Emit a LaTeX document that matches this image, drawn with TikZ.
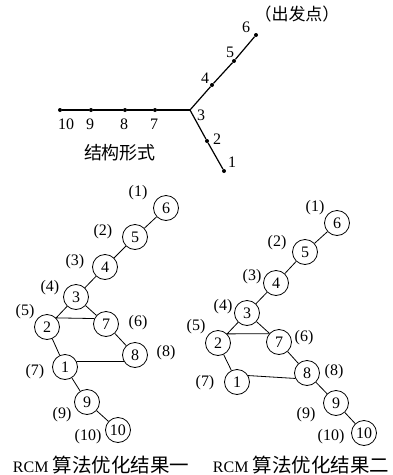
\documentclass[tikz,border=0pt]{standalone}
\usepackage{fontspec}
\setmainfont{Liberation Serif}
\newfontfamily\cjk{Noto Sans CJK SC}
\usetikzlibrary{positioning}

\begin{document}
\begin{tikzpicture}[x=1pt,y=-1pt,
    vtx/.style={draw,circle,line width=0.8pt,minimum size=25pt,inner sep=0pt,font=\fontsize{16}{16}\selectfont},
    num/.style={inner sep=0pt,font=\fontsize{16}{16}\selectfont},
    dot/.style={circle,fill,inner sep=0pt,minimum size=4pt},
    bar/.style={line width=1.2pt},
    edge/.style={line width=0.8pt}]
    \useasboundingbox (0,0) rectangle (392,475);

    % Structure (top)
    \foreach \n/\x/\y in {6/256/35, 5/234/61, 4/212/85, 7/155/110, 8/125/110,
                          9/91/110, 10/60/110, 2/207/141, 1/224/171}
        \node[dot] (t\n) at (\x,\y) {};
    \coordinate (t3) at (190,110);
    \draw[bar] (t6) -- (t5) -- (t4) -- (t3) -- (t2) -- (t1);
    \draw[bar] (t3) -- (t7) -- (t8) -- (t9) -- (t10);
    % Structure labels
    \foreach \n/\x/\y in {6/246/27, 5/230/52, 4/205/78, 3/201/115, 2/217/139,
                          1/232/162, 7/154/124, 8/124/124, 9/90/124, 10/66/124}
        \node[num] (tl\n) at (\x,\y) {\n};
    \node[inner sep=0pt,font=\cjk\fontsize{17}{17}\selectfont] (start) at (297,14) {（出发点）};
    \node[inner sep=0pt,font=\cjk\fontsize{18}{18}\selectfont] (form) at (120,153) {结构形式};

    % RCM result 1
    \foreach \n/\x/\y in {6/166/208, 5/135/237, 4/105/267, 3/76/297, 2/47/327,
                          7/106/324, 8/135/355, 1/65/367, 9/87/402, 10/118/430}
        \node[vtx] (a\n) at (\x,\y) {\n};
    \foreach \u/\v in {6/5, 5/4, 4/3, 3/7, 2/1, 7/8, 1/9, 9/10}
        \draw[edge] (a\u) -- (a\v);
    \draw[edge] (a3) -- (a2.45) -- (a7.155);
    \draw[edge] (a1.25) -- (a8.210);
    \foreach \n/\x/\y in {1/138/193, 2/103/232, 3/75/262, 4/50/288, 5/25/312,
                          6/138/323, 8/166/353, 7/35/372, 9/62/415, 10/88/437}
        \node[num] (al\n) at (\x,\y) {(\n)};
    \node[inner sep=0pt] (capa) at (101,465)
        {\fontsize{16}{16}\selectfont RCM {\cjk\fontsize{19.5}{19.5}\selectfont 算法优化结果一}};

    % RCM result 2
    \foreach \n/\x/\y in {6/337/223, 5/305/252, 4/276/283, 3/247/313, 2/218/343,
                          7/279/342, 8/307/373, 1/237/382, 9/336/403, 10/364/433}
        \node[vtx] (b\n) at (\x,\y) {\n};
    \foreach \u/\v in {6/5, 5/4, 4/3, 3/7, 2/1, 7/8, 8/9, 9/10}
        \draw[edge] (b\u) -- (b\v);
    \draw[edge] (b3) -- (b2.45) -- (b7.140);
    \draw[edge] (b1.30) -- (b8.205);
    \foreach \n/\x/\y in {1/315/208, 2/277/243, 3/252/277, 4/223/307, 5/196/327,
                          6/304/338, 8/334/372, 7/205/383, 9/306/415, 10/331/437}
        \node[num] (bl\n) at (\x,\y) {(\n)};
    \node[inner sep=0pt] (capb) at (301,465)
        {\fontsize{16}{16}\selectfont RCM {\cjk\fontsize{19.5}{19.5}\selectfont 算法优化结果二}};

\end{tikzpicture}
\end{document}
